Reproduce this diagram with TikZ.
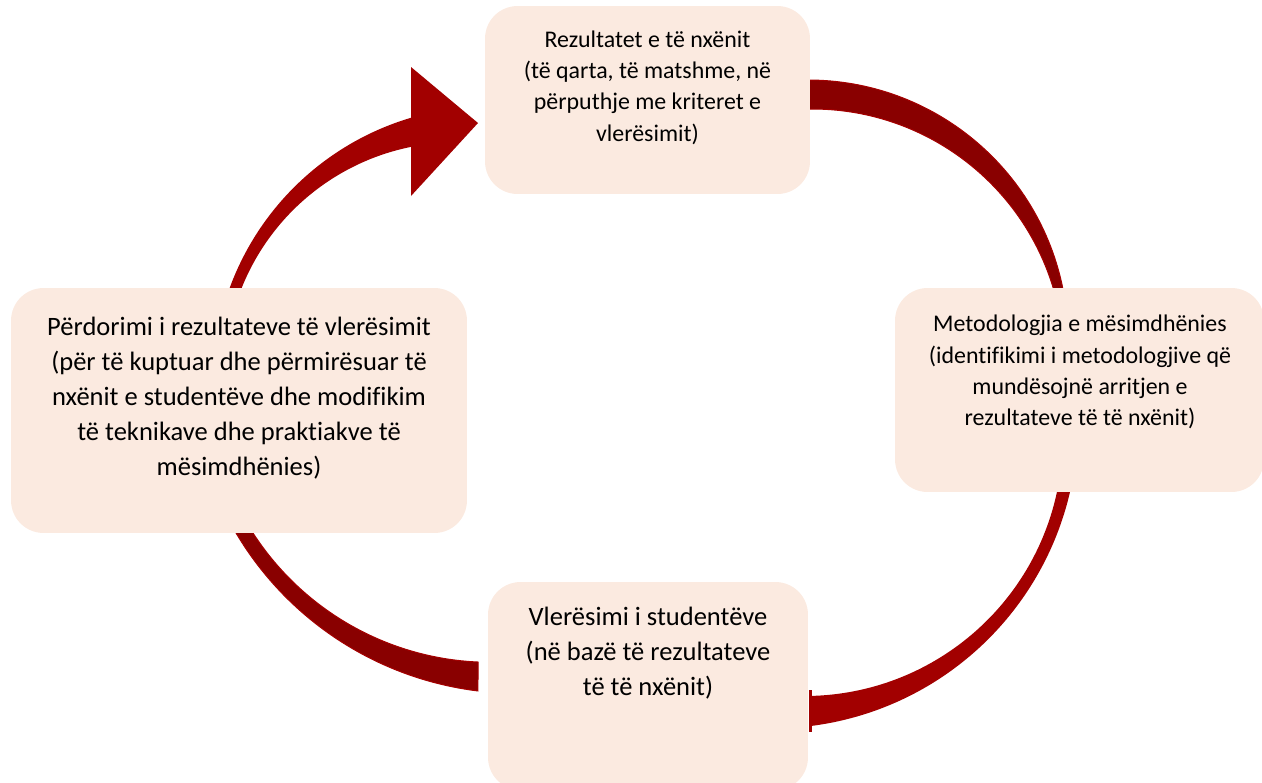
\documentclass[tikz,border=0pt]{standalone}
\usepackage{fontspec}
\setmainfont{Carlito}[Ligatures=NoCommon]
\usepackage{tikz}
\usetikzlibrary{backgrounds}
\definecolor{stagefill}{RGB}{251,234,224}
\definecolor{arcdark}{RGB}{137,0,0}
\definecolor{arcedge}{RGB}{165,0,0}
\definecolor{arcred}{RGB}{162,0,0}
\tikzstyle{stage} = [rectangle, fill=stagefill, draw=none, rounded corners=0.65cm]
\tikzstyle{stage_txt} = [align=center, inner sep=0pt]
\tikzstyle{small_txt} = [stage_txt, font=\fontsize{13.6}{17.8}\selectfont]
\tikzstyle{big_txt} = [stage_txt, font=\fontsize{15.1}{19.9}\selectfont]
\tikzstyle{arc_dark} = [fill=arcdark, draw=arcedge, line width=0.02cm]
\tikzstyle{arc_red} = [fill=arcred]

\begin{document}
\begin{tikzpicture}[x=0.02cm, y=-0.02cm]
		\useasboundingbox (0,0) rectangle (1262,782);
		
		\node[stage, minimum width=6.5cm, minimum height=3.76cm] (res) at (647.5,100) {};
		\node[small_txt] (res_txt) at (647.5,87.5) {Rezultatet e të nxënit\\(të qarta, të matshme, në\\përputhje me kriteret e\\vlerësimit)};
		
		\node[stage, minimum width=7.38cm, minimum height=4.08cm] (met) at (1079.5,390) {};
		\node[small_txt] (met_txt) at (1080,372) {Metodologjia e mësimdhënies\\(identifikimi i metodologjive që\\mundësojnë arritjen e\\rezultateve të të nxënit)};
		
		\node[stage, minimum width=6.4cm, minimum height=4.16cm] (vle) at (648,686) {};
		\node[big_txt] (vle_txt) at (648,653) {Vlerësimi i studentëve\\(në bazë të rezultateve\\të të nxënit)};
		
		\node[stage, minimum width=9.12cm, minimum height=4.9cm] (per) at (239,410.5) {};
		\node[big_txt] (per_txt) at (239,398) {Përdorimi i rezultateve të vlerësimit\\(për të kuptuar dhe përmirësuar të\\nxënit e studentëve dhe modifikim\\të teknikave dhe praktiakve të\\mësimdhënies)};
		
		\begin{scope}[on background layer]
		% res -> met
		\path[arc_dark] ([shift={(808,340)}]-90:260) arc[start angle=-90, end angle=-11.09, radius=260]
			-- ([shift={(812.2,360.8)}]-16.36:251.8) arc[start angle=-16.36, end angle=-90.7, radius=251.8] -- cycle;
		% met -> vle
		\path[arc_red] ([shift={(772.5,423)}]12.29:305.4) arc[start angle=12.29, end angle=82.95, radius=305.4]
			-- ([shift={(804.6,437.9)}]88.8:258.1) arc[start angle=88.8, end angle=11.19, radius=258.1] -- cycle;
		\draw[arcred, line width=0.06cm] (810.5,690) -- (810.5,732);
		% per -> vle
		\path[arc_dark] ([shift={(517.8,365.7)}]149.91:327.7) arc[start angle=149.91, end angle=96.98, radius=327.7]
			-- ([shift={(490.5,379.5)}]92.53:282.8) arc[start angle=92.53, end angle=147.85, radius=282.8] -- cycle;
		% per -> res
		\path[arc_red] ([shift={(489.8,383.4)}]199.48:277.1) arc[start angle=199.48, end angle=253.48, radius=277.1]
			-- (411,67) -- (478,123) -- (411,196)
			-- ([shift={(456.8,374)}]258.6:231.7) arc[start angle=258.6, end angle=200.99, radius=231.7] -- cycle;
		\end{scope}
	\end{tikzpicture}
\end{document}
